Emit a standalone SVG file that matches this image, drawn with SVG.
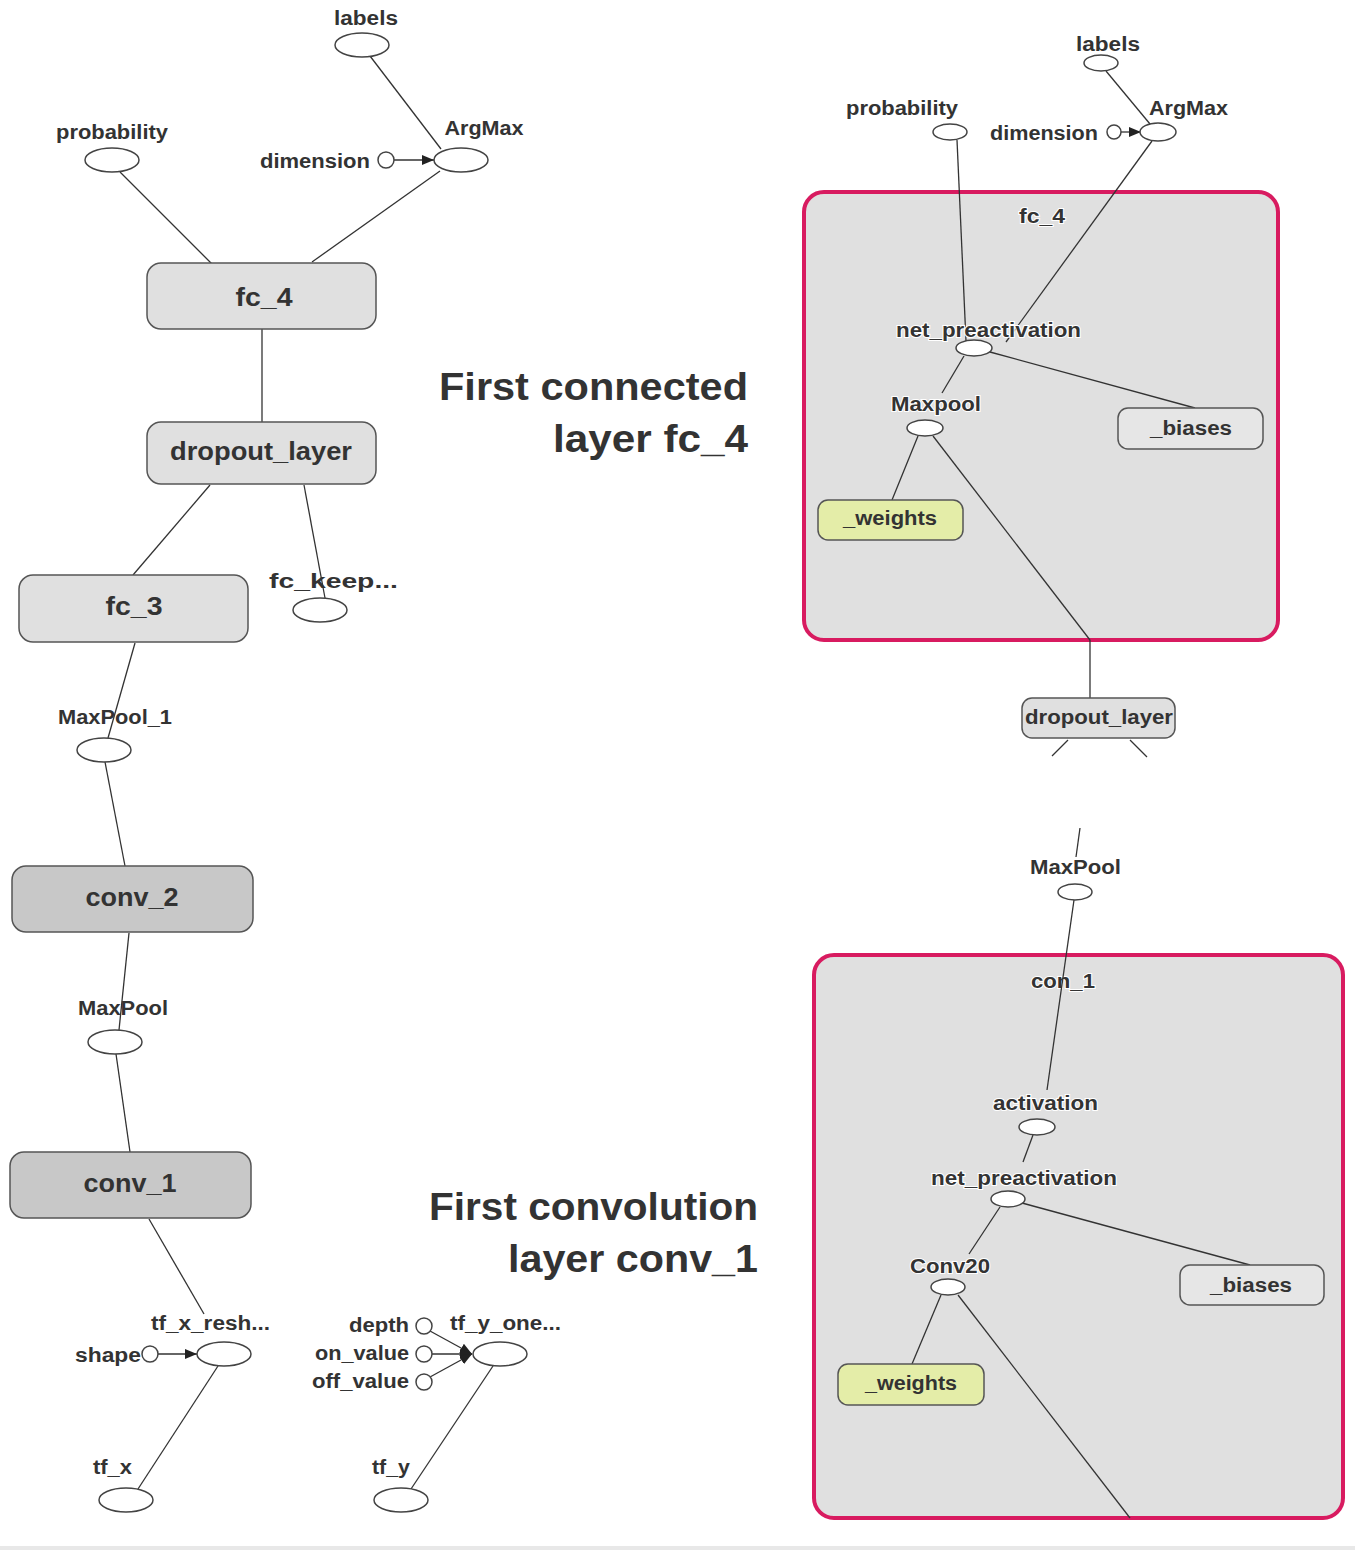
<svg xmlns="http://www.w3.org/2000/svg" width="1355" height="1550" viewBox="0 0 1355 1550">
<style>
  .t { font-family: "Liberation Sans", Arial, sans-serif; font-weight: bold; font-size: 20px; fill: #333; }
  .tb { font-family: "Liberation Sans", Arial, sans-serif; font-weight: bold; font-size: 26px; fill: #333; }
  .title { font-family: "Liberation Sans", Arial, sans-serif; font-weight: bold; font-size: 38px; fill: #333; }
  .halo { paint-order: stroke; stroke: #fff; stroke-width: 2px; }
  .ell { fill: #fff; stroke: #444; stroke-width: 1.5; }
  .box { fill: #e0e0e0; stroke: #555; stroke-width: 1.5; }
  .box2 { fill: #c8c8c8; stroke: #555; stroke-width: 1.5; }
  .wbox { fill: #e4eda8; stroke: #555; stroke-width: 1.5; }
  .bbox { fill: #e6e6e6; stroke: #555; stroke-width: 1.5; }
  .group { fill: #e0e0e0; stroke: #d81b60; stroke-width: 4; }
  .ln { stroke: #333; stroke-width: 1.3; fill: none; }
</style>
<defs>
  <marker id="arr" markerWidth="13" markerHeight="12" refX="12" refY="6" orient="auto" markerUnits="userSpaceOnUse">
    <path d="M0,1 L12,6 L0,11 Z" fill="#222"/>
  </marker>
</defs>
<rect x="0" y="0" width="1355" height="1550" fill="#fff"/>
<rect x="0" y="1546" width="1355" height="4" fill="#e8e8e8"/>

<!-- Right group containers (drawn first) -->
<g id="fc4-group">
  <rect class="group" x="804" y="192" width="474" height="448" rx="20"/>
  <text class="t halo" x="1042" y="223" text-anchor="middle" textLength="46" lengthAdjust="spacingAndGlyphs">fc_4</text>
</g>
<g id="conv1-group">
  <rect class="group" x="814" y="955" width="529" height="563" rx="20"/>
  <text class="t halo" x="1063" y="988" text-anchor="middle" textLength="64" lengthAdjust="spacingAndGlyphs">con_1</text>
</g>

<!-- Connectors -->
<g id="connectors">
  <!-- left -->
  <line class="ln" x1="370" y1="56" x2="441" y2="149"/>
  <line class="ln" x1="120" y1="172" x2="212" y2="264"/>
  <line class="ln" x1="440" y1="171" x2="312" y2="262"/>
  <line class="ln" x1="394" y1="160" x2="434" y2="160" marker-end="url(#arr)"/>
  <line class="ln" x1="262" y1="329" x2="262" y2="422"/>
  <line class="ln" x1="210" y1="485" x2="133" y2="575"/>
  <line class="ln" x1="304" y1="485" x2="325" y2="598"/>
  <line class="ln" x1="135" y1="643" x2="108" y2="738"/>
  <line class="ln" x1="105" y1="762" x2="125" y2="866"/>
  <line class="ln" x1="129" y1="933" x2="119" y2="1030"/>
  <line class="ln" x1="116" y1="1054" x2="130" y2="1152"/>
  <line class="ln" x1="149" y1="1219" x2="204" y2="1314"/>
  <line class="ln" x1="158" y1="1354" x2="197" y2="1354" marker-end="url(#arr)"/>
  <line class="ln" x1="218" y1="1366" x2="138" y2="1489"/>
  <line class="ln" x1="430" y1="1331" x2="472" y2="1354" marker-end="url(#arr)"/>
  <line class="ln" x1="432" y1="1354" x2="472" y2="1354" marker-end="url(#arr)"/>
  <line class="ln" x1="430" y1="1377" x2="472" y2="1354" marker-end="url(#arr)"/>
  <line class="ln" x1="493" y1="1366" x2="411" y2="1489"/>
  <!-- right top -->
  <line class="ln" x1="1106" y1="71" x2="1150" y2="124"/>
  <line class="ln" x1="1121" y1="132" x2="1141" y2="132" marker-end="url(#arr)"/>
  <line class="ln" x1="957" y1="140" x2="966" y2="341"/>
  <line class="ln" x1="1152" y1="141" x2="1006" y2="342"/>
  <line class="ln" x1="990" y1="352" x2="1195" y2="408"/>
  <line class="ln" x1="964" y1="356" x2="942" y2="393"/>
  <line class="ln" x1="918" y1="436" x2="892" y2="500"/>
  <line class="ln" x1="933" y1="436" x2="1090" y2="640"/>
  <line class="ln" x1="1090" y1="640" x2="1090" y2="698"/>
  <line class="ln" x1="1068" y1="740" x2="1052" y2="756"/>
  <line class="ln" x1="1130" y1="740" x2="1147" y2="757"/>
  <line class="ln" x1="1080" y1="828" x2="1076" y2="857"/>
  <!-- right bottom -->
  <line class="ln" x1="1074" y1="900" x2="1047" y2="1090"/>
  <line class="ln" x1="1033" y1="1135" x2="1023" y2="1162"/>
  <line class="ln" x1="1022" y1="1203" x2="1250" y2="1265"/>
  <line class="ln" x1="1000" y1="1207" x2="969" y2="1254"/>
  <line class="ln" x1="941" y1="1295" x2="912" y2="1364"/>
  <line class="ln" x1="958" y1="1295" x2="1130" y2="1518"/>
</g>

<!-- Left nodes -->
<g id="labels-l"><ellipse class="ell" cx="362" cy="45" rx="27" ry="12"/><text class="t" x="366" y="25" text-anchor="middle" textLength="64" lengthAdjust="spacingAndGlyphs">labels</text></g>
<g id="probability-l"><ellipse class="ell" cx="112" cy="160" rx="27" ry="12"/><text class="t" x="112" y="139" text-anchor="middle" textLength="112" lengthAdjust="spacingAndGlyphs">probability</text></g>
<g id="argmax-l"><ellipse class="ell" cx="461" cy="160" rx="27" ry="12"/><text class="t" x="484" y="135" text-anchor="middle" textLength="79" lengthAdjust="spacingAndGlyphs">ArgMax</text></g>
<g id="dimension-l"><circle class="ell" cx="386" cy="160" r="8"/><text class="t" x="260" y="168" textLength="110" lengthAdjust="spacingAndGlyphs">dimension</text></g>
<g id="fc4-l"><rect class="box" x="147" y="263" width="229" height="66" rx="14"/><text class="tb" x="264" y="306" text-anchor="middle" textLength="57" lengthAdjust="spacingAndGlyphs">fc_4</text></g>
<g id="dropout-l"><rect class="box" x="147" y="422" width="229" height="62" rx="14"/><text class="tb" x="261" y="460" text-anchor="middle" textLength="182" lengthAdjust="spacingAndGlyphs">dropout_layer</text></g>
<g id="fckeep-l"><ellipse class="ell" cx="320" cy="610" rx="27" ry="12"/><text class="t" x="269" y="588" textLength="129" lengthAdjust="spacingAndGlyphs">fc_keep...</text></g>
<g id="fc3-l"><rect class="box" x="19" y="575" width="229" height="67" rx="14"/><text class="tb" x="134" y="615" text-anchor="middle" textLength="57" lengthAdjust="spacingAndGlyphs">fc_3</text></g>
<g id="maxpool1-l"><ellipse class="ell" cx="104" cy="750" rx="27" ry="12"/><text class="t" x="58" y="724" textLength="114" lengthAdjust="spacingAndGlyphs">MaxPool_1</text></g>
<g id="conv2-l"><rect class="box2" x="12" y="866" width="241" height="66" rx="14"/><text class="tb" x="132" y="906" text-anchor="middle" textLength="93" lengthAdjust="spacingAndGlyphs">conv_2</text></g>
<g id="maxpool-l"><ellipse class="ell" cx="115" cy="1042" rx="27" ry="12"/><text class="t" x="78" y="1015" textLength="90" lengthAdjust="spacingAndGlyphs">MaxPool</text></g>
<g id="conv1-l"><rect class="box2" x="10" y="1152" width="241" height="66" rx="14"/><text class="tb" x="130" y="1192" text-anchor="middle" textLength="93" lengthAdjust="spacingAndGlyphs">conv_1</text></g>
<g id="tfxresh"><ellipse class="ell" cx="224" cy="1354" rx="27" ry="12"/><text class="t" x="151" y="1330" textLength="119" lengthAdjust="spacingAndGlyphs">tf_x_resh...</text></g>
<g id="shape"><circle class="ell" cx="150" cy="1354" r="8"/><text class="t" x="75" y="1362" textLength="66" lengthAdjust="spacingAndGlyphs">shape</text></g>
<g id="tfx"><ellipse class="ell" cx="126" cy="1500" rx="27" ry="12"/><text class="t" x="93" y="1474" textLength="39" lengthAdjust="spacingAndGlyphs">tf_x</text></g>
<g id="depth"><circle class="ell" cx="424" cy="1326" r="8"/><text class="t" x="349" y="1332" textLength="60" lengthAdjust="spacingAndGlyphs">depth</text></g>
<g id="onvalue"><circle class="ell" cx="424" cy="1354" r="8"/><text class="t" x="315" y="1360" textLength="94" lengthAdjust="spacingAndGlyphs">on_value</text></g>
<g id="offvalue"><circle class="ell" cx="424" cy="1382" r="8"/><text class="t" x="312" y="1388" textLength="97" lengthAdjust="spacingAndGlyphs">off_value</text></g>
<g id="tfyone"><ellipse class="ell" cx="500" cy="1354" rx="27" ry="12"/><text class="t" x="450" y="1330" textLength="111" lengthAdjust="spacingAndGlyphs">tf_y_one...</text></g>
<g id="tfy"><ellipse class="ell" cx="401" cy="1500" rx="27" ry="12"/><text class="t" x="372" y="1474" textLength="38" lengthAdjust="spacingAndGlyphs">tf_y</text></g>

<!-- Titles -->
<g id="title-fc4">
  <text class="title" x="748" y="400" text-anchor="end" textLength="309" lengthAdjust="spacingAndGlyphs">First connected</text>
  <text class="title" x="748" y="452" text-anchor="end" textLength="195" lengthAdjust="spacingAndGlyphs">layer fc_4</text>
</g>
<g id="title-conv1">
  <text class="title" x="758" y="1220" text-anchor="end" textLength="329" lengthAdjust="spacingAndGlyphs">First convolution</text>
  <text class="title" x="758" y="1272" text-anchor="end" textLength="250" lengthAdjust="spacingAndGlyphs">layer conv_1</text>
</g>

<!-- Right nodes -->
<g id="labels-r"><ellipse class="ell" cx="1101" cy="63" rx="17" ry="8"/><text class="t" x="1076" y="51" textLength="64" lengthAdjust="spacingAndGlyphs">labels</text></g>
<g id="argmax-r"><ellipse class="ell" cx="1158" cy="132" rx="18" ry="9"/><text class="t" x="1149" y="115" textLength="79" lengthAdjust="spacingAndGlyphs">ArgMax</text></g>
<g id="dimension-r"><circle class="ell" cx="1114" cy="132" r="7"/><text class="t" x="990" y="140" textLength="108" lengthAdjust="spacingAndGlyphs">dimension</text></g>
<g id="probability-r"><ellipse class="ell" cx="950" cy="132" rx="17" ry="8"/><text class="t" x="846" y="115" textLength="112" lengthAdjust="spacingAndGlyphs">probability</text></g>
<g id="netpre-r1"><ellipse class="ell" cx="974" cy="348" rx="18" ry="8"/><text class="t halo" x="896" y="337" textLength="185" lengthAdjust="spacingAndGlyphs">net_preactivation</text></g>
<g id="maxpool-r1"><ellipse class="ell" cx="925" cy="428" rx="18" ry="8"/><text class="t halo" x="891" y="411" textLength="90" lengthAdjust="spacingAndGlyphs">Maxpool</text></g>
<g id="biases-r1"><rect class="bbox" x="1118" y="408" width="145" height="41" rx="10"/><text class="t" x="1150" y="435" textLength="82" lengthAdjust="spacingAndGlyphs">_biases</text></g>
<g id="weights-r1"><rect class="wbox" x="818" y="500" width="145" height="40" rx="10"/><text class="t" x="843" y="525" textLength="94" lengthAdjust="spacingAndGlyphs">_weights</text></g>
<g id="dropout-r"><rect class="box" x="1022" y="698" width="153" height="40" rx="10"/><text class="t" x="1025" y="724" textLength="148" lengthAdjust="spacingAndGlyphs">dropout_layer</text></g>
<g id="maxpool-r2"><ellipse class="ell" cx="1075" cy="892" rx="17" ry="8"/><text class="t" x="1030" y="874" textLength="91" lengthAdjust="spacingAndGlyphs">MaxPool</text></g>
<g id="activation-r"><ellipse class="ell" cx="1037" cy="1127" rx="18" ry="8"/><text class="t halo" x="993" y="1110" textLength="105" lengthAdjust="spacingAndGlyphs">activation</text></g>
<g id="netpre-r2"><ellipse class="ell" cx="1008" cy="1199" rx="17" ry="8"/><text class="t halo" x="931" y="1185" textLength="186" lengthAdjust="spacingAndGlyphs">net_preactivation</text></g>
<g id="conv20-r"><ellipse class="ell" cx="948" cy="1287" rx="17" ry="8"/><text class="t halo" x="910" y="1273" textLength="80" lengthAdjust="spacingAndGlyphs">Conv20</text></g>
<g id="biases-r2"><rect class="bbox" x="1180" y="1265" width="144" height="40" rx="10"/><text class="t" x="1210" y="1292" textLength="82" lengthAdjust="spacingAndGlyphs">_biases</text></g>
<g id="weights-r2"><rect class="wbox" x="838" y="1364" width="146" height="41" rx="10"/><text class="t" x="865" y="1390" textLength="92" lengthAdjust="spacingAndGlyphs">_weights</text></g>
</svg>
